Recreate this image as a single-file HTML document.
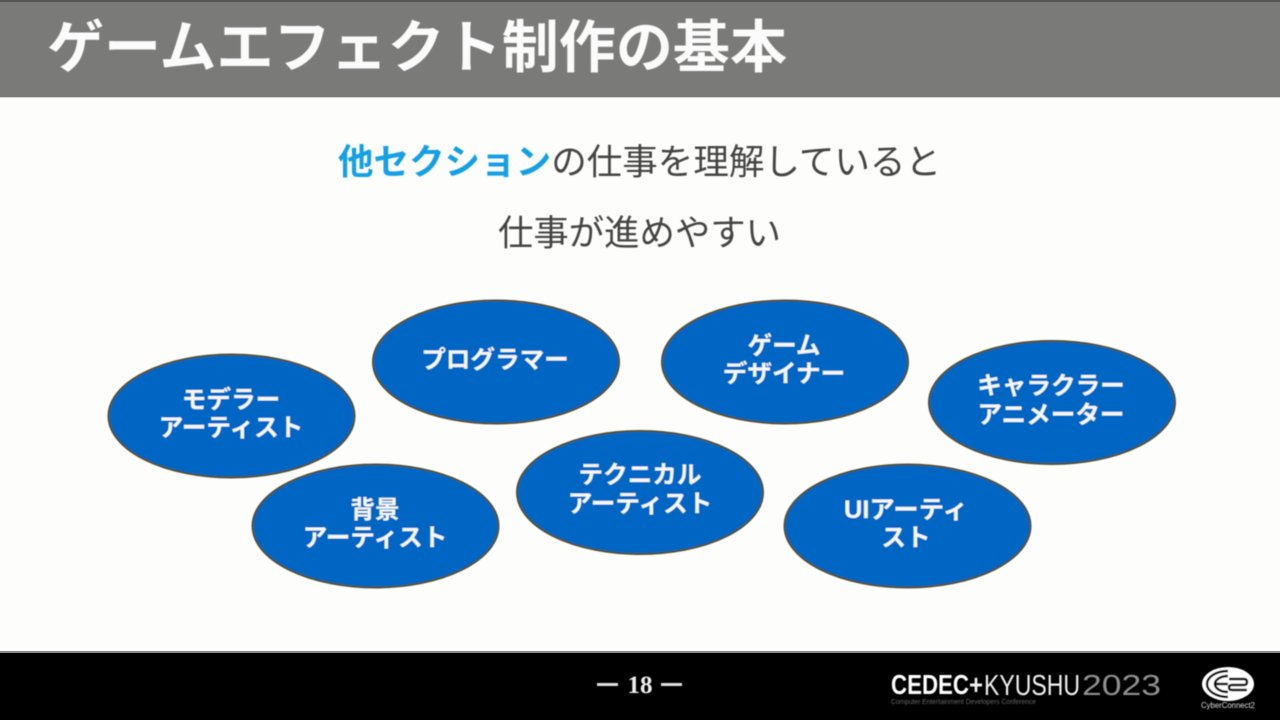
<!DOCTYPE html>
<html lang="ja">
<head>
<meta charset="utf-8">
<style>
html,body{margin:0;padding:0;width:1280px;height:720px;overflow:hidden;background:#fdfdfb}
svg{display:block}
text{font-family:"Liberation Sans","Noto Sans CJK JP",sans-serif}
.l{font-size:24.6px;font-weight:700;fill:#f4f8fc;text-anchor:middle}
.e{fill:#0666c4;stroke:#4f4f36;stroke-width:2}
</style>
</head>
<body>
<svg width="1280" height="720" viewBox="0 0 1280 720" xmlns="http://www.w3.org/2000/svg">
<defs><filter id="b" x="-5%" y="-5%" width="110%" height="110%"><feGaussianBlur stdDeviation="0.6"/></filter></defs>
<rect width="1280" height="720" fill="#fdfdfb"/>
<rect width="1280" height="97" fill="#7a7a78"/>
<rect width="1280" height="2" fill="#555553"/>
<rect y="97" width="1280" height="1" fill="#d0d0ce"/>
<rect y="652" width="1280" height="68" fill="#000"/>
<rect y="651" width="1280" height="2" fill="#8a8a8a"/>
<g filter="url(#b)">
<text x="47" y="67" font-size="57" font-weight="700" fill="#fbfbfb" textLength="740" lengthAdjust="spacingAndGlyphs">ゲームエフェクト制作の基本</text>
<text x="338" y="174" font-size="35.5" fill="#444" textLength="603" lengthAdjust="spacingAndGlyphs"><tspan fill="#12a0e4" font-weight="700">他セクション</tspan>の仕事を理解していると</text>
<text x="498" y="245" font-size="35.5" fill="#444" textLength="283" lengthAdjust="spacingAndGlyphs">仕事が進めやすい</text>

<ellipse class="e" cx="231.500" cy="416" rx="123" ry="61.500"/>
<ellipse class="e" cx="496" cy="362" rx="123" ry="61.500"/>
<ellipse class="e" cx="785" cy="362" rx="123" ry="61.500"/>
<ellipse class="e" cx="1052" cy="402.500" rx="123" ry="61.500"/>
<ellipse class="e" cx="640" cy="492.500" rx="123" ry="61.500"/>
<ellipse class="e" cx="375.500" cy="526" rx="123" ry="61.500"/>
<ellipse class="e" cx="907.500" cy="526" rx="123" ry="61.500"/>

<text class="l" x="231" y="408">モデラー</text>
<text class="l" x="231" y="436">アーティスト</text>
<text class="l" x="495" y="368">プログラマー</text>
<text class="l" x="784" y="354">ゲーム</text>
<text class="l" x="784" y="382">デザイナー</text>
<text class="l" x="1051" y="394">キャラクラー</text>
<text class="l" x="1051" y="423">アニメーター</text>
<text class="l" x="640" y="483">テクニカル</text>
<text class="l" x="640" y="512">アーティスト</text>
<text class="l" x="375" y="518">背景</text>
<text class="l" x="375" y="546">アーティスト</text>
<text class="l" x="844" y="518" style="text-anchor:start" textLength="124" lengthAdjust="spacingAndGlyphs">UIアーティ</text>
<text class="l" x="906" y="546">スト</text>

<rect x="597" y="683" width="21" height="3" fill="#ddd"/>
<rect x="661" y="683" width="21" height="3" fill="#ddd"/>
<text x="640" y="693" font-size="25" font-weight="700" fill="#efefef" text-anchor="middle" style="font-family:'Liberation Serif',serif">18</text>

<text x="891" y="694" font-size="28" font-weight="700" fill="#fff" textLength="78" lengthAdjust="spacingAndGlyphs">CEDEC</text>
<text x="969" y="694" font-size="28" font-weight="700" fill="#eee" textLength="14" lengthAdjust="spacingAndGlyphs">+</text>
<text x="984" y="695" font-size="29" fill="#f0f0f0" textLength="96" lengthAdjust="spacingAndGlyphs">KYUSHU</text>
<text x="1082" y="695" font-size="29" fill="#8f8f8f" textLength="79" lengthAdjust="spacingAndGlyphs">2023</text>
<text x="891" y="704" font-size="7" fill="#666" textLength="145" lengthAdjust="spacingAndGlyphs">Computer Entertainment Developers Conference</text>

<ellipse cx="1228" cy="684" rx="26" ry="17" fill="#fff"/>
<path d="M1228 671 A21 13 0 0 0 1228 697" fill="none" stroke="#000" stroke-width="2.5"/>
<path d="M1228 676 A13 8 0 0 0 1228 692" fill="none" stroke="#000" stroke-width="2.5"/>
<path d="M1216 684h12" stroke="#000" stroke-width="2.5"/>
<path d="M1229 679h15q3 0 3 3t-3 3h-12q-3 0-3 2.500t3 2.500h15" fill="none" stroke="#000" stroke-width="2.500"/>
<text x="1228" y="708" font-size="8" fill="#ddd" text-anchor="middle" textLength="54" lengthAdjust="spacingAndGlyphs">CyberConnect2</text>
</g>
</svg>
</body>
</html>
